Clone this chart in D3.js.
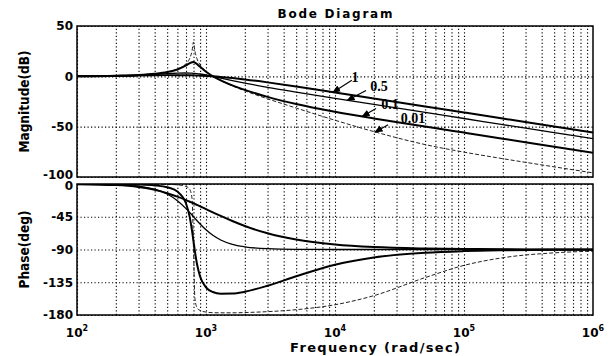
<!DOCTYPE html>
<html>
<head>
<meta charset="utf-8">
<script src="https://cdn.jsdelivr.net/npm/d3@7"></script>
<style>
  body { margin: 0; background: #fff; }
  svg { display: block; }
  .grid line { stroke: #000; stroke-width: 1.1; stroke-dasharray: 1.2,2.3; }
  .grid path { display: none; }
  .tick-lbl { font-family: "DejaVu Sans", sans-serif; font-size: 12px; font-weight: bold; fill: #000; }
</style>
</head>
<body>
<div id="chart"></div>
<script>
////// DATA //////
var freq = [100, 200, 300, 400, 500, 600, 700, 750, 780, 800, 820, 850, 900, 1000, 1130, 1300, 1600, 2000, 3000, 5000, 10000, 20000, 50000, 100000, 200000, 500000, 1000000];

var zetaLabels = ["1", "0.5", "0.1", "0.01"];

// magnitude in dB
var magZ1   = [0.1, 0.4, 0.8, 1.1, 1.2, 1.2, 1.2, 1.1, 1.0, 1.0, 0.9, 0.9, 0.7, 0.4, 0.0, -0.6, -1.7, -3.1, -6.0, -10.1, -16.0, -22.0, -29.9, -35.9, -41.9, -49.9, -55.9];
var magZ05  = [0.1, 0.5, 1.1, 1.9, 2.6, 3.2, 3.3, 3.2, 3.1, 3.0, 2.9, 2.7, 2.3, 1.4, 0.0, -1.7, -4.2, -6.7, -10.9, -15.7, -21.9, -27.9, -35.9, -41.9, -48.0, -55.9, -61.9];
var magZ01  = [0.1, 0.6, 1.3, 2.5, 4.2, 6.8, 10.8, 13.2, 14.1, 14.2, 13.7, 12.3, 9.4, 4.5, 0.0, -4.0, -9.0, -13.5, -20.4, -27.5, -35.2, -41.8, -49.9, -55.9, -61.9, -69.9, -75.9];
var magZ001 = [0.1, 0.6, 1.3, 2.5, 4.3, 7.2, 12.6, 18.2, 25.5, 34.0, 25.3, 17.7, 11.5, 5.0, 0.0, -4.3, -9.5, -14.4, -22.3, -31.5, -43.6, -54.9, -67.8, -75.3, -81.8, -89.9, -95.9];

// phase in degrees
var phZ1   = [-0.2, -1.5, -4.2, -8.1, -12.7, -17.4, -22.1, -24.4, -25.7, -26.6, -27.4, -28.7, -30.7, -34.5, -38.9, -43.9, -50.9, -57.7, -67.7, -76.4, -83.1, -86.6, -88.6, -89.3, -89.7, -89.9, -89.9];
var phZ05  = [-0.1, -0.9, -3.0, -7.1, -13.7, -22.9, -33.8, -39.5, -42.8, -45.0, -47.1, -50.2, -54.9, -62.9, -70.5, -76.9, -82.9, -86.3, -88.9, -89.8, -90, -90, -90, -90, -90, -90, -90];
var phZ01  = [0, -0.2, -0.7, -1.9, -4.5, -10.4, -26.8, -46.5, -64.8, -78.7, -92.3, -109.2, -127.0, -142.0, -148.4, -150.8, -150.6, -148.0, -139.8, -126.8, -110.9, -100.9, -94.4, -92.2, -91.1, -90.4, -90.2];
var phZ001 = [0, 0, -0.1, -0.2, -0.5, -1.1, -3.3, -7.7, -20.4, -88.9, -156.8, -169.4, -173.9, -176.0, -176.8, -177.0, -177.0, -176.6, -175.4, -172.7, -165.9, -153.4, -128.6, -111.8, -101.3, -94.6, -92.3];

var magTicks = [50, 0, -50, -100];
var phaseTicks = [0, -45, -90, -135, -180];
var decades = [2, 3, 4, 5, 6];

// annotation: label position and arrow (frequency, dB)
var annLabel = [[14300, -0.5], [21900, -9.5], [26700, -27.5], [40300, -41.5]];
var annFrom  = [[13500, -4], [17400, -14], [20800, -32], [25800, -48]];
var annTip   = [[9600, -16], [12400, -24], [16200, -40], [20400, -55.5]];
/////////////////////////////////////////

var W = 611, H = 356;
var left = 77, right = 593;
var magTop = 26, magBot = 177;
var phTop = 184, phBot = 315;

var svg = d3.select("#chart").append("svg")
  .attr("width", W).attr("height", H);

svg.append("defs").append("marker")
  .attr("id", "arrow")
  .attr("viewBox", "0 0 10 10")
  .attr("refX", 9).attr("refY", 5)
  .attr("markerWidth", 7).attr("markerHeight", 7)
  .attr("orient", "auto")
  .append("path").attr("d", "M0,1 L10,5 L0,9 Z").attr("fill", "#000");

var x = d3.scaleLog().domain([100, 1e6]).range([left, right]);
var yMag = d3.scaleLinear().domain([-100, 50]).range([magBot, magTop]);
var yPh = d3.scaleLinear().domain([-180, 0]).range([phBot, phTop]);

// all minor + major frequencies for vertical grid
var gridFreq = [];
for (var e = 2; e < 6; e++) {
  for (var m = 1; m < 10; m++) gridFreq.push(m * Math.pow(10, e));
}

// nudge = small shift so "-100" and "0" at the panel join don't collide
function panel(y, ticks, top, bot, nudge) {
  var g = svg.append("g");
  // vertical grid
  g.append("g").attr("class", "grid")
    .attr("transform", "translate(0," + bot + ")")
    .call(d3.axisBottom(x).tickValues(gridFreq).tickSize(-(bot - top)).tickFormat(""));
  // horizontal grid
  g.append("g").attr("class", "grid")
    .attr("transform", "translate(" + left + ",0)")
    .call(d3.axisLeft(y).tickValues(ticks).tickSize(-(right - left)).tickFormat(""));
  // labels
  g.selectAll(".ylbl").data(ticks).enter().append("text")
    .attr("class", "tick-lbl")
    .attr("x", left - 4)
    .attr("y", function (d) { return y(d) + (nudge[d] || 0); })
    .attr("dy", "0.36em")
    .attr("text-anchor", "end")
    .text(function (d) { return d; });
  return g;
}

panel(yMag, magTicks, magTop, magBot, { "-100": -2.5 });
panel(yPh, phaseTicks, phTop, phBot, { "0": 2 });

var lineMag = d3.line()
  .x(function (d, i) { return x(freq[i]); })
  .y(function (d) { return yMag(d); })
  .curve(d3.curveMonotoneX);
var linePh = d3.line()
  .x(function (d, i) { return x(freq[i]); })
  .y(function (d) { return yPh(d); })
  .curve(d3.curveMonotoneX);

var styles = [
  { w: 2, dash: null, col: "#000" },
  { w: 1.3, dash: null, col: "#000" },
  { w: 2, dash: null, col: "#000" },
  { w: 1, dash: "4,2", col: "#222" }
];

svg.append("clipPath").attr("id", "magClip").append("rect")
  .attr("x", left).attr("y", magTop).attr("width", right - left).attr("height", magBot - magTop);
svg.append("clipPath").attr("id", "phClip").append("rect")
  .attr("x", left).attr("y", phTop).attr("width", right - left).attr("height", phBot - phTop);

var magG = svg.append("g").attr("clip-path", "url(#magClip)");
var phG = svg.append("g").attr("clip-path", "url(#phClip)");

[magZ001, magZ01, magZ05, magZ1].forEach(function (s, k) {
  var st = styles[3 - k];
  magG.append("path").attr("d", lineMag(s))
    .attr("fill", "none").attr("stroke", st.col)
    .attr("stroke-width", st.w).attr("stroke-dasharray", st.dash);
});
[phZ001, phZ01, phZ05, phZ1].forEach(function (s, k) {
  var st = styles[3 - k];
  phG.append("path").attr("d", linePh(s))
    .attr("fill", "none").attr("stroke", st.col)
    .attr("stroke-width", st.w).attr("stroke-dasharray", st.dash);
});

// frames
[[magTop, magBot], [phTop, phBot]].forEach(function (p) {
  svg.append("rect")
    .attr("x", left).attr("y", p[0])
    .attr("width", right - left).attr("height", p[1] - p[0])
    .attr("fill", "none").attr("stroke", "#000").attr("stroke-width", 1.5);
});

// x tick labels 10^n
var xl = svg.selectAll(".xlbl").data(decades).enter().append("text")
  .attr("class", "tick-lbl")
  .attr("x", function (d) { return x(Math.pow(10, d)); })
  .attr("y", 337)
  .attr("text-anchor", "middle");
xl.append("tspan").text("10");
xl.append("tspan").attr("dy", -6).attr("font-size", "8px").text(function (d) { return d; });

// annotations
zetaLabels.forEach(function (lab, i) {
  svg.append("line")
    .attr("x1", x(annFrom[i][0])).attr("y1", yMag(annFrom[i][1]))
    .attr("x2", x(annTip[i][0])).attr("y2", yMag(annTip[i][1]))
    .attr("stroke", "#000").attr("stroke-width", 1.2)
    .attr("marker-end", "url(#arrow)");
  svg.append("text")
    .attr("x", x(annLabel[i][0])).attr("y", yMag(annLabel[i][1]))
    .attr("text-anchor", "middle")
    .attr("dy", "0.35em")
    .style("font-family", "'Liberation Serif', serif")
    .style("font-weight", "bold")
    .style("font-size", "14px")
    .text(lab);
});

// titles
svg.append("text")
  .attr("x", 335).attr("y", 18)
  .attr("text-anchor", "middle")
  .attr("textLength", 115)
  .style("font-family", "'DejaVu Sans', sans-serif")
  .style("font-weight", "bold").style("font-size", "12px")
  .text("Bode Diagram");

svg.append("text")
  .attr("transform", "translate(29," + ((magTop + magBot) / 2) + ") rotate(-90)")
  .attr("text-anchor", "middle")
  .style("font-family", "'DejaVu Sans Condensed', 'DejaVu Sans', sans-serif")
  .style("font-weight", "bold")
  .style("font-size", "13.5px")
  .text("Magnitude(dB)");

svg.append("text")
  .attr("transform", "translate(29," + ((phTop + phBot) / 2) + ") rotate(-90)")
  .attr("text-anchor", "middle")
  .style("font-family", "'DejaVu Sans Condensed', 'DejaVu Sans', sans-serif")
  .style("font-weight", "bold")
  .style("font-size", "13.5px")
  .text("Phase(deg)");

svg.append("text")
  .attr("x", 375).attr("y", 352)
  .attr("text-anchor", "middle")
  .attr("textLength", 170)
  .style("font-family", "'DejaVu Sans', sans-serif")
  .style("font-weight", "bold")
  .style("font-size", "13px")
  .text("Frequency (rad/sec)");
</script>
</body>
</html>
